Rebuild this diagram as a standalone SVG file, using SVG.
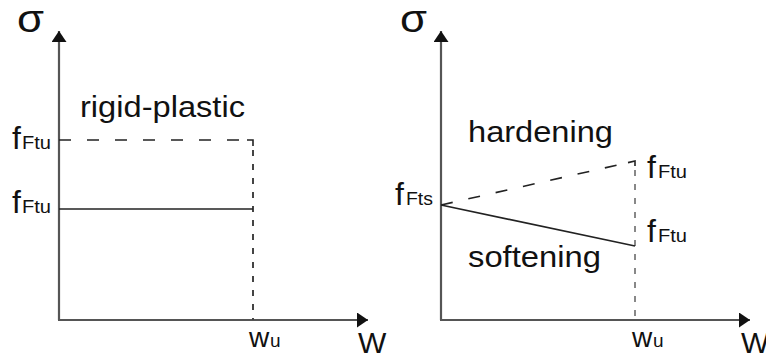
<svg xmlns="http://www.w3.org/2000/svg" width="766" height="354" viewBox="0 0 766 354">
<defs>
<style>
.ax{stroke:#555;stroke-width:2.2;fill:none}
.ln{stroke:#222;stroke-width:1.6;fill:none}
.dl{stroke:#222;stroke-width:1.6;fill:none;stroke-dasharray:12 16}
.dv{stroke:#444;stroke-width:2;fill:none;stroke-dasharray:6 8}
.dv2{stroke:#888;stroke-width:2;fill:none;stroke-dasharray:6 8}
text{font-family:"Liberation Sans",Arial,sans-serif;fill:#111}
.big{font-size:30px}
.f{font-size:32px}
.sub{font-size:19px}
.sig{font-size:38px}
</style>
<marker id="arr" markerUnits="userSpaceOnUse" markerWidth="12" markerHeight="16" refX="11" refY="7.5" orient="auto">
<path d="M0,0 L11,7.5 L0,15 z" fill="#111"/>
</marker>
</defs>
<rect width="766" height="354" fill="#fff"/>

<g id="left-panel">
<g id="left-axes">
<line class="ax" x1="59" y1="320" x2="59" y2="31" marker-end="url(#arr)"/>
<line class="ax" x1="58" y1="320" x2="368" y2="320" marker-end="url(#arr)"/>
</g>
<g id="left-lines">
<path class="dl" d="M59,140 H253"/>
<path class="ln" d="M247,140 H253 V146"/>
<path class="dv" d="M253,150 V320"/>
<line class="ln" x1="59" y1="209" x2="253" y2="209"/>
</g>
<g id="left-labels">
<text class="sig" x="17" y="32" textLength="27" lengthAdjust="spacingAndGlyphs">σ</text>
<text class="big" x="80" y="117" textLength="165" lengthAdjust="spacingAndGlyphs">rigid-plastic</text>
<text class="f" x="12" y="149">f</text><text class="sub" x="22" y="149" textLength="29" lengthAdjust="spacingAndGlyphs">Ftu</text>
<text class="f" x="12" y="213">f</text><text class="sub" x="22" y="213" textLength="29" lengthAdjust="spacingAndGlyphs">Ftu</text>
<text class="big" x="249" y="347" font-size="28" style="font-size:28px">w</text><text class="sub" x="270" y="347">u</text>
<text class="big" x="358" y="353">W</text>
</g>
</g>

<g id="right-panel">
<g id="right-axes">
<line class="ax" x1="441" y1="320" x2="441" y2="31" marker-end="url(#arr)"/>
<line class="ax" x1="440" y1="320" x2="750" y2="320" marker-end="url(#arr)"/>
</g>
<g id="right-lines">
<line class="dl" x1="441" y1="205" x2="629" y2="162.4"/>
<path class="ln" d="M628,162.6 L635,161 V166"/>
<path class="dv2" d="M635,170 V320"/>
<line class="ln" x1="441" y1="205" x2="635" y2="246"/>
</g>
<g id="right-labels">
<text class="sig" x="400" y="32" textLength="27" lengthAdjust="spacingAndGlyphs">σ</text>
<text class="big" x="468" y="142" textLength="145" lengthAdjust="spacingAndGlyphs">hardening</text>
<text class="big" x="468" y="267" textLength="133" lengthAdjust="spacingAndGlyphs">softening</text>
<text class="f" x="395" y="205">f</text><text class="sub" x="406" y="205" textLength="27" lengthAdjust="spacingAndGlyphs">Fts</text>
<text class="f" x="647" y="178">f</text><text class="sub" x="658" y="178" textLength="29" lengthAdjust="spacingAndGlyphs">Ftu</text>
<text class="f" x="647" y="242">f</text><text class="sub" x="658" y="242" textLength="29" lengthAdjust="spacingAndGlyphs">Ftu</text>
<text class="big" x="632" y="347" style="font-size:28px">w</text><text class="sub" x="653" y="347">u</text>
<text class="big" x="741" y="353">W</text>
</g>
</g>
</svg>
